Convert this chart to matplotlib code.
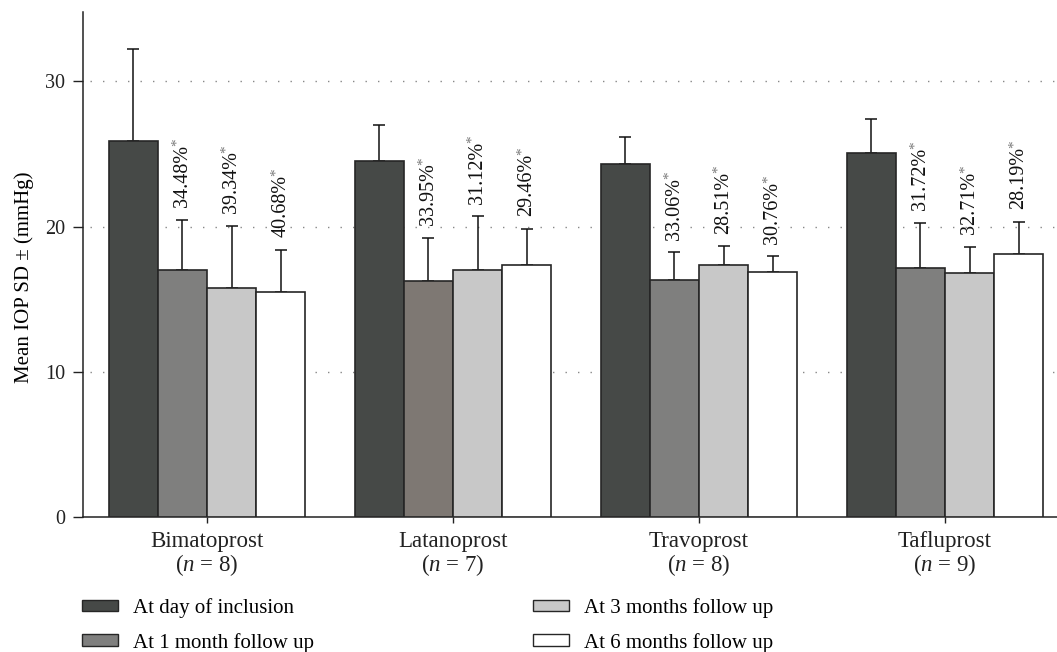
import numpy as np
import matplotlib.pyplot as plt
from matplotlib.patches import Patch

plt.rcParams['font.family'] = ['Liberation Serif', 'DejaVu Serif']
plt.rcParams['mathtext.fontset'] = 'custom'
plt.rcParams['mathtext.rm'] = 'Liberation Serif'
plt.rcParams['mathtext.it'] = 'Liberation Serif:italic'

groups = ['Bimatoprost', 'Latanoprost', 'Travoprost', 'Tafluprost']
n_pat = [8, 7, 8, 9]
series = ['At day of inclusion', 'At 1 month follow up',
          'At 3 months follow up', 'At 6 months follow up']
mean_day = [25.93, 24.55, 24.28, 25.10]
mean_1m = [16.99, 16.28, 16.30, 17.17]
mean_3m = [15.79, 16.99, 17.38, 16.83]
mean_6m = [15.52, 17.38, 16.85, 18.14]
sd_day = [6.27, 2.48, 1.86, 2.28]
sd_1m = [3.49, 2.94, 1.93, 3.11]
sd_3m = [4.28, 3.72, 1.26, 1.79]
sd_6m = [2.89, 2.48, 1.10, 2.20]
red_1m = ['34.48%', '33.95%', '33.06%', '31.72%']
red_3m = ['39.34%', '31.12%', '28.51%', '32.71%']
red_6m = ['40.68%', '29.46%', '30.76%', '28.19%']

means = [mean_day, mean_1m, mean_3m, mean_6m]
sds = [sd_day, sd_1m, sd_3m, sd_6m]
reds = [None, red_1m, red_3m, red_6m]
colors = ['#464947', '#7f7f7e', '#c8c8c8', '#ffffff']
edge = '#262626'

fig = plt.figure(figsize=(10.57, 6.52), dpi=100)
ax = fig.add_axes([0.0785, 0.207, 0.9215, 0.775])

x = np.arange(len(groups))
w = 0.2
offs = [-1.5, -0.5, 0.5, 1.5]
for i in range(4):
    xs = x + offs[i] * w
    bars = ax.bar(xs, means[i], width=w, color=colors[i], edgecolor=edge,
                  linewidth=1.2, zorder=3)
    ax.errorbar(xs, means[i], yerr=[np.zeros(4), sds[i]], fmt='none',
                ecolor='#111111', elinewidth=1.1, capsize=4.5, capthick=1.1,
                zorder=2)
    if i == 1:
        bars[1].set_facecolor('#7e7873')
    if reds[i] is not None:
        for j in range(4):
            t = ax.annotate(reds[i][j], xy=(xs[j], means[i][j] + sds[i][j]),
                            xytext=(0, 9), textcoords='offset points',
                            rotation=90, ha='center', va='bottom',
                            fontsize=14.5, color='#111111', zorder=4)
            # superscript asterisk after the percentage
            ax.annotate('*', xy=(0.5, 1.0), xycoords=t, xytext=(-3.5, -1),
                        textcoords='offset points', rotation=90,
                        ha='center', va='bottom', fontsize=11, color='#777777')

ax.set_xlim(-0.504, 3.455)
ax.set_ylim(0, 34.8)
ax.set_yticks([0, 10, 20, 30])
ax.set_xticks(x)
ax.set_xticklabels([f'{g}\n($n$ = {n})' for g, n in zip(groups, n_pat)],
                   fontsize=16.5, linespacing=1.0)
ax.tick_params(axis='y', length=7, width=1, pad=6, labelsize=14.5, colors='#222222')
ax.tick_params(axis='x', length=4, width=1, pad=6, colors='#222222')
ax.set_ylabel('Mean IOP SD \u00b1 (mmHg)', fontsize=15)
ax.yaxis.set_label_coords(-0.05, 0.475)

for s in ['top', 'right']:
    ax.spines[s].set_visible(False)
for s in ['left', 'bottom']:
    ax.spines[s].set_linewidth(1.1)
    ax.spines[s].set_color('#222222')

for yv in [10, 20, 30]:
    ax.axhline(yv, xmin=0.007, color='#888888', linewidth=1,
               linestyle=(0, (1, 8)), zorder=1)

handles = [Patch(facecolor=colors[i], edgecolor=edge, linewidth=1.0, label=series[i])
           for i in range(4)]
fig.legend(handles=handles, ncol=2, loc='upper left',
           bbox_to_anchor=(0.0776, 0.083), frameon=False, fontsize=15,
           handlelength=1.73, handleheight=0.48, handletextpad=0.72,
           columnspacing=10.5, labelspacing=0.72, borderaxespad=0,
           borderpad=0)

fig.savefig('out.png', dpi=100)
